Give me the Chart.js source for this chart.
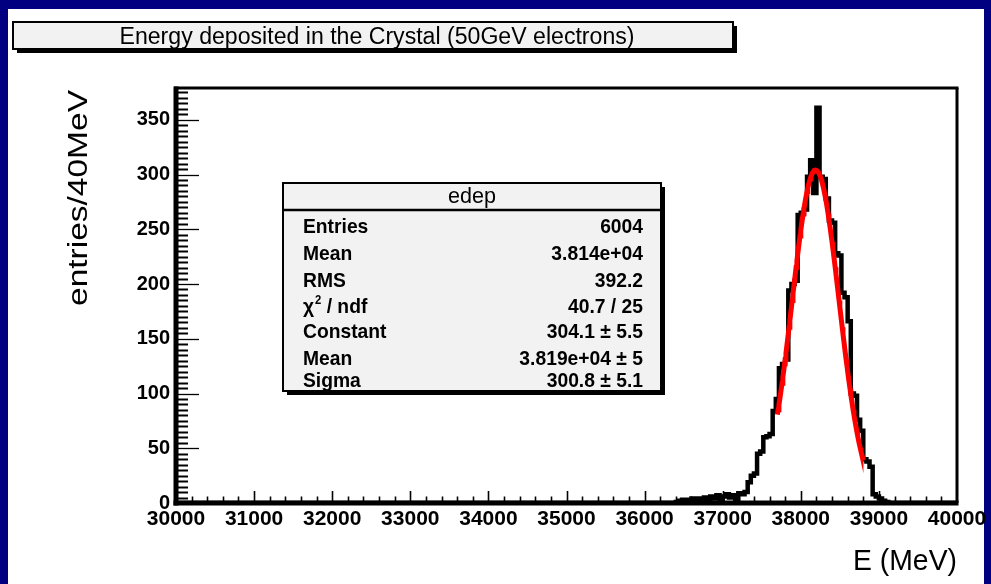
<!DOCTYPE html>
<html>
<head>
<meta charset="utf-8">
<title>Energy deposited in the Crystal</title>
<script src="https://cdn.jsdelivr.net/npm/chart.js@4.4.1/dist/chart.umd.min.js"></script>
<style>
  html, body { margin: 0; padding: 0; background: #000080; overflow: hidden; }
  canvas { display: block; }
</style>
</head>
<body>
<canvas id="edep" width="991" height="584"></canvas>
<script>
// ---- histogram content ----
const histTitle = 'Energy deposited in the Crystal (50GeV electrons)';
const xTitle = 'E (MeV)';
const yTitle = 'entries/40MeV';

const xMin = 30000;
const xMax = 40000;
const binWidth = 40;          // MeV per bin
const yMax = 379;

// entries per 40 MeV bin, starting at the bin whose low edge is firstBinLow
const firstBinLow = 36400;
const counts = [
  1, 2, 3, 2, 3, 4, 2, 4, 3, 5,            // 36400 - 36760
  3, 6, 4, 7, 2, 6, 8, 5, 7, 2,            // 36800 - 37160
  9, 8, 10, 19, 25, 27, 45, 47, 60, 61,    // 37200 - 37560
  63, 84, 95, 123, 127, 131, 194, 200, 203, 263,  // 37600 - 37960
  265, 268, 298, 313, 283, 361, 298, 296, 278, 258, // 38000 - 38360
  256, 228, 226, 192, 188, 166, 100, 98, 76, 66,  // 38400 - 38760
  40, 38, 33, 8, 6, 4, 2, 1                // 38800 - 39080
];

const xTickValues = [30000, 31000, 32000, 33000, 34000, 35000, 36000, 37000, 38000, 39000, 40000];
const yTickValues = [0, 50, 100, 150, 200, 250, 300, 350];
const xMinorStep = 200;
const yMinorStep = 5;

// gaussian fit result
const fitConstant = 304.1;
const fitMean = 38190;
const fitSigma = 300.8;
const fitRange = [37700, 38800];

// statistics box
const statsName = 'edep';
const statsLabels = ['Entries', 'Mean', 'RMS', 'CHI2', 'Constant', 'Mean', 'Sigma'];
const statsValues = ['6004', '3.814e+04', '392.2', '40.7 / 25', '304.1 \u00b1 5.5', '3.819e+04 \u00b1 5', '300.8 \u00b1 5.1'];

// ---- build the datasets ----
const histPoints = [];
for (let lo = xMin; lo < xMax; lo += binWidth) {
  const k = Math.round((lo - firstBinLow) / binWidth);
  histPoints.push({ x: lo, y: (k >= 0 && k < counts.length) ? counts[k] : 0 });
}
histPoints.push({ x: xMax, y: 0 });

const fitPoints = [];
for (let e = fitRange[0]; e <= fitRange[1]; e += 10) {
  const z = (e - fitMean) / fitSigma;
  fitPoints.push({ x: e, y: fitConstant * Math.exp(-0.5 * z * z) });
}

const FONT = "'Liberation Sans', Arial, Helvetica, sans-serif";

// draws text squeezed / stretched horizontally to a given width
function fitText(ctx, text, x, y, width, font, align) {
  ctx.save();
  ctx.font = font;
  const w = ctx.measureText(text).width;
  ctx.translate(x, y);
  ctx.scale(width / w, 1);
  ctx.textAlign = align;
  ctx.textBaseline = 'alphabetic';
  ctx.fillText(text, 0, 0);
  ctx.restore();
}

function paveBox(ctx, l, t, r, b) {
  ctx.fillStyle = '#000';
  ctx.fillRect(l + 4, t + 4, r - l, b - t);
  ctx.fillStyle = '#f2f2f2';
  ctx.fillRect(l, t, r - l, b - t);
  ctx.strokeStyle = '#000';
  ctx.lineWidth = 2;
  ctx.strokeRect(l, t, r - l, b - t);
}

const rootStyle = {
  id: 'rootStyle',
  beforeDraw(chart) {
    const ctx = chart.ctx;
    ctx.save();
    ctx.fillStyle = '#000080';
    ctx.fillRect(0, 0, chart.width, chart.height);
    ctx.fillStyle = '#ffffff';
    ctx.fillRect(8, 9, 976, chart.height - 9);
    ctx.restore();
  },
  afterDraw(chart) {
    const ctx = chart.ctx;
    const xs = chart.scales.x, ys = chart.scales.y;
    const { left: L, right: R, top: T, bottom: B } = chart.chartArea;
    ctx.save();
    ctx.strokeStyle = '#000';
    ctx.lineCap = 'butt';

    // y ticks (inside the frame)
    for (let v = yMinorStep; v < yMax; v += yMinorStep) {
      const y = Math.round(ys.getPixelForValue(v)) + 0.5;
      const major = v % 50 === 0;
      ctx.lineWidth = major ? 1.3 : 2;
      ctx.beginPath();
      ctx.moveTo(L, y);
      ctx.lineTo(L + (major ? 23 : 12), y);
      ctx.stroke();
    }
    // x ticks
    for (let v = xMin + xMinorStep; v < xMax; v += xMinorStep) {
      const x = Math.round(xs.getPixelForValue(v)) + 0.5;
      const major = v % 1000 === 0;
      ctx.lineWidth = 1.6;
      ctx.beginPath();
      ctx.moveTo(x, B);
      ctx.lineTo(x, B - (major ? 12 : 6.5));
      ctx.stroke();
    }

    // frame: thick axes, thinner top / right edges
    ctx.lineWidth = 3;
    ctx.beginPath(); ctx.moveTo(L - 2, T); ctx.lineTo(R + 1.5, T); ctx.stroke();
    ctx.beginPath(); ctx.moveTo(R, T); ctx.lineTo(R, B); ctx.stroke();
    ctx.lineWidth = 5;
    ctx.beginPath(); ctx.moveTo(L, T - 1.5); ctx.lineTo(L, B + 2.5); ctx.stroke();
    ctx.beginPath(); ctx.moveTo(L - 2.5, B); ctx.lineTo(R + 1.5, B); ctx.stroke();

    // title pave
    paveBox(ctx, 13, 22, 733, 49);
    ctx.fillStyle = '#000';
    fitText(ctx, histTitle, 377, 44, 515, '23px ' + FONT, 'center');

    // axis titles
    fitText(ctx, xTitle, R, 570, 104, '30px ' + FONT, 'right');
    ctx.save();
    ctx.translate(87, 90);
    ctx.rotate(-Math.PI / 2);
    fitText(ctx, yTitle, 0, 0, 216, '27px ' + FONT, 'right');
    ctx.restore();

    // statistics pave
    const sl = 283, st = 183, sr = 661, sb = 391;
    paveBox(ctx, sl, st, sr, sb);
    ctx.lineWidth = 2.5;
    ctx.beginPath(); ctx.moveTo(sl, 210); ctx.lineTo(sr, 210); ctx.stroke();
    ctx.fillStyle = '#000';
    fitText(ctx, statsName, (sl + sr) / 2, 203, 48, '22px ' + FONT, 'center');

    const baselines = [233, 260, 287, 313, 338, 365, 387];
    const rowFont = 'bold 20.5px ' + FONT;
    const squeeze = 0.94;
    const drawRow = (text, x, y, align) => {
      ctx.save();
      ctx.translate(x, y);
      ctx.scale(squeeze, 1);
      ctx.font = rowFont;
      ctx.textAlign = align;
      ctx.fillText(text, 0, 0);
      ctx.restore();
    };
    statsLabels.forEach((lab, i) => {
      const yb = baselines[i];
      if (lab === 'CHI2') {
        ctx.save();
        ctx.translate(303, yb);
        ctx.scale(squeeze, 1);
        ctx.textAlign = 'left';
        ctx.font = rowFont;
        let x = 0;
        ctx.fillText('\u03c7', x, 0);
        x += ctx.measureText('\u03c7').width + 1;
        ctx.font = 'bold 12px ' + FONT;
        ctx.fillText('2', x, -9);
        x += ctx.measureText('2').width;
        ctx.font = rowFont;
        ctx.fillText(' / ndf', x, 0);
        ctx.restore();
      } else {
        drawRow(lab, 303, yb, 'left');
      }
      drawRow(statsValues[i], 643, yb, 'right');
    });
    ctx.restore();
  }
};

new Chart(document.getElementById('edep'), {
  type: 'line',
  data: {
    datasets: [
      {
        label: 'gaus fit',
        data: fitPoints,
        borderColor: '#ff0000',
        borderWidth: 5,
        pointRadius: 0,
        tension: 0,
        fill: false,
        order: 0
      },
      {
        label: statsName,
        data: histPoints,
        stepped: true,
        borderColor: '#000000',
        borderWidth: 4.5,
        borderJoinStyle: 'miter',
        borderCapStyle: 'butt',
        pointRadius: 0,
        fill: false,
        order: 1
      }
    ]
  },
  options: {
    responsive: false,
    animation: false,
    devicePixelRatio: 1,
    events: [],
    layout: { padding: { left: 8, right: 34, top: 88, bottom: 0 } },
    plugins: { legend: { display: false }, tooltip: { enabled: false }, title: { display: false } },
    scales: {
      x: {
        type: 'linear',
        min: xMin,
        max: xMax,
        grid: { display: false, drawTicks: false },
        border: { display: false },
        afterBuildTicks: s => { s.ticks = xTickValues.map(v => ({ value: v })); },
        afterFit: s => { s.height = 81; },
        ticks: {
          color: '#000',
          font: { family: FONT, size: 21, weight: 'bold' },
          padding: 4,
          maxRotation: 0,
          autoSkip: false,
          callback: v => String(v)
        }
      },
      y: {
        type: 'linear',
        min: 0,
        max: yMax,
        grid: { display: false, drawTicks: false },
        border: { display: false },
        afterBuildTicks: s => { s.ticks = yTickValues.map(v => ({ value: v })); },
        afterFit: s => { s.width = 168; },
        ticks: {
          color: '#000',
          font: { family: FONT, size: 20, weight: 'bold' },
          padding: 6,
          autoSkip: false,
          callback: v => String(v)
        }
      }
    }
  },
  plugins: [rootStyle]
});
</script>
</body>
</html>
